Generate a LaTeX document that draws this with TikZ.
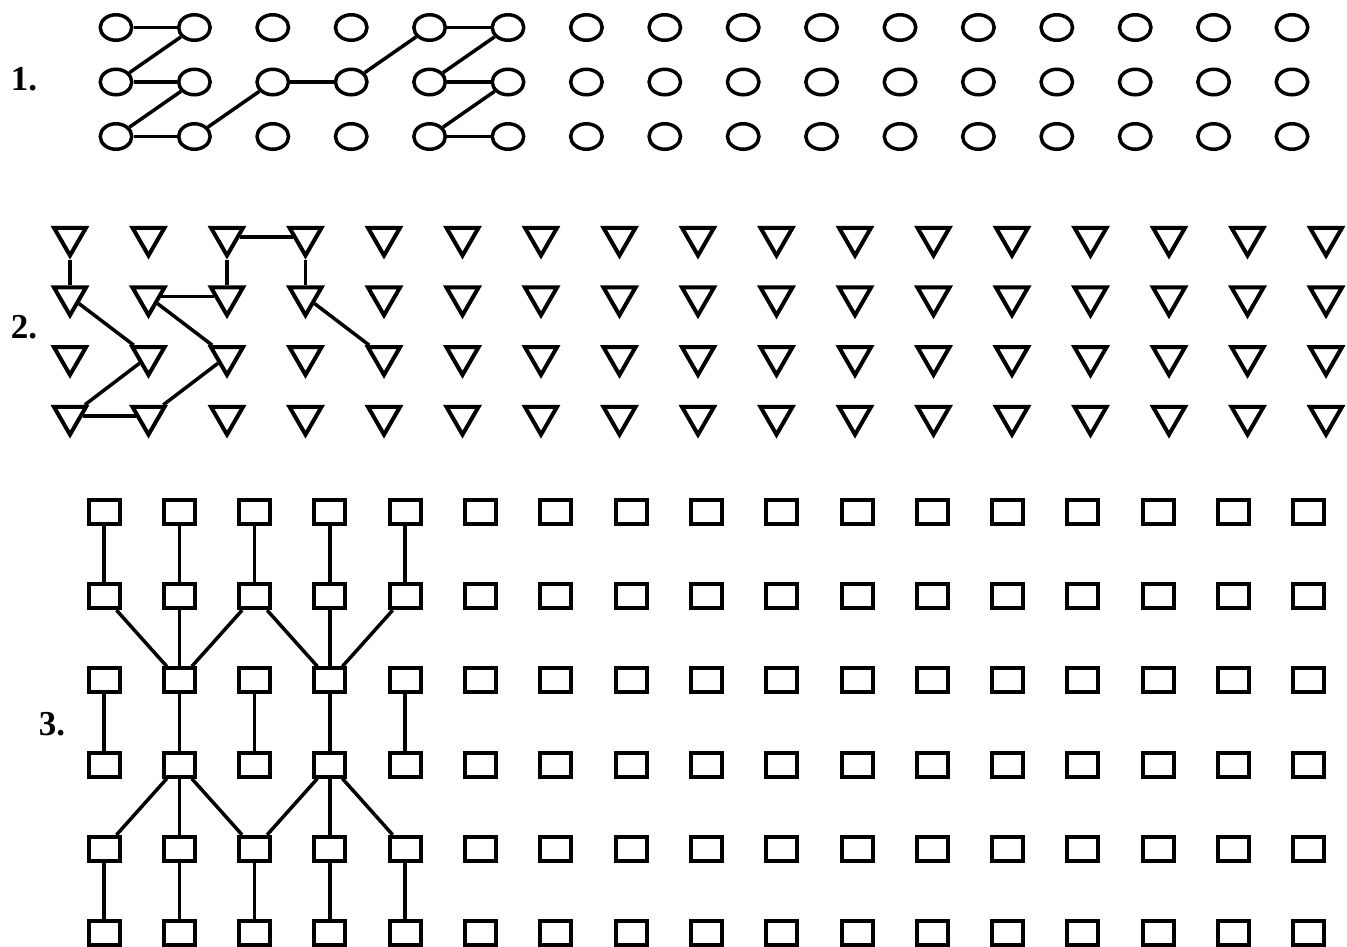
\documentclass[tikz,border=0pt]{standalone}
\usepackage{fontspec}
\setmainfont{Liberation Serif}
\usetikzlibrary{shapes.geometric}
\tikzset{
  circ/.style={ellipse, draw, line width=3.5pt, minimum width=31.5pt, minimum height=25.5pt, inner sep=0pt},
  tri/.style={regular polygon, regular polygon sides=3, shape border rotate=180, draw, line width=4pt, minimum size=37pt, inner sep=0pt},
  sq/.style={rectangle, draw, line width=4pt, minimum width=31pt, minimum height=24pt, inner sep=0pt},
  link/.style={line width=3.5pt},
  lbl/.style={inner sep=0pt, font=\fontsize{35}{40}\selectfont\bfseries}
}
\begin{document}
\begin{tikzpicture}[x=1pt,y=-1pt]
\useasboundingbox (0,0) rectangle (1347,946);
% labels
\node[lbl] (l1) at (24,79) {1.};
\node[lbl] (l2) at (24,327) {2.};
\node[lbl] (l3) at (52,724) {3.};
% circles
\foreach \r in {1,2,3} \foreach \c in {1,...,16}
  \node[circ] (c-\r-\c) at ({116+78.4*(\c-1)},{27.5+54.5*(\r-1)}) {};
% triangles
\foreach \r in {1,...,4} \foreach \c in {1,...,17}
  \node[tri] (t-\r-\c) at ({70+78.5*(\c-1)},{237+59.7*(\r-1)}) {};
% squares
\foreach \r in {1,...,6} \foreach \c in {1,...,17}
  \node[sq] (s-\r-\c) at ({104+75.3*(\c-1)},{512+84.2*(\r-1)}) {};
% section 1 links
\draw[link] (c-1-1) -- (c-1-2);
\draw[link] (c-1-2) -- (c-2-1);
\draw[link] (c-2-1) -- (c-2-2);
\draw[link] (c-2-2) -- (c-3-1);
\draw[link] (c-3-1) -- (c-3-2);
\draw[link] (c-3-2) -- (c-2-3);
\draw[link] (c-2-3) -- (c-2-4);
\draw[link] (c-2-4) -- (c-1-5);
\draw[link] (c-1-5) -- (c-1-6);
\draw[link] (c-1-6) -- (c-2-5);
\draw[link] (c-2-5) -- (c-2-6);
\draw[link] (c-2-6) -- (c-3-5);
\draw[link] (c-3-5) -- (c-3-6);
% section 2 links
\draw[link] (t-1-1) -- (t-2-1);
\draw[link] (t-1-3) -- (t-1-4);
\draw[link] (t-1-3) -- (t-2-3);
\draw[link] (t-1-4) -- (t-2-4);
\draw[link] (t-2-2) -- (t-2-3);
\draw[link] (t-2-1) -- (t-3-2);
\draw[link] (t-3-2) -- (t-4-1);
\draw[link] (t-4-1) -- (t-4-2);
\draw[link] (t-4-2) -- (t-3-3);
\draw[link] (t-3-3) -- (t-2-2);
\draw[link] (t-2-4) -- (t-3-5);
% section 3 links
\foreach \c in {1,...,5} {
  \draw[link] (s-1-\c) -- (s-2-\c);
  \draw[link] (s-3-\c) -- (s-4-\c);
  \draw[link] (s-5-\c) -- (s-6-\c);
}
\foreach \c in {1,2,3} \draw[link] (s-2-\c) -- (s-3-2);
\foreach \c in {3,4,5} \draw[link] (s-2-\c) -- (s-3-4);
\foreach \c in {1,2,3} \draw[link] (s-4-2) -- (s-5-\c);
\foreach \c in {3,4,5} \draw[link] (s-4-4) -- (s-5-\c);
\end{tikzpicture}
\end{document}
